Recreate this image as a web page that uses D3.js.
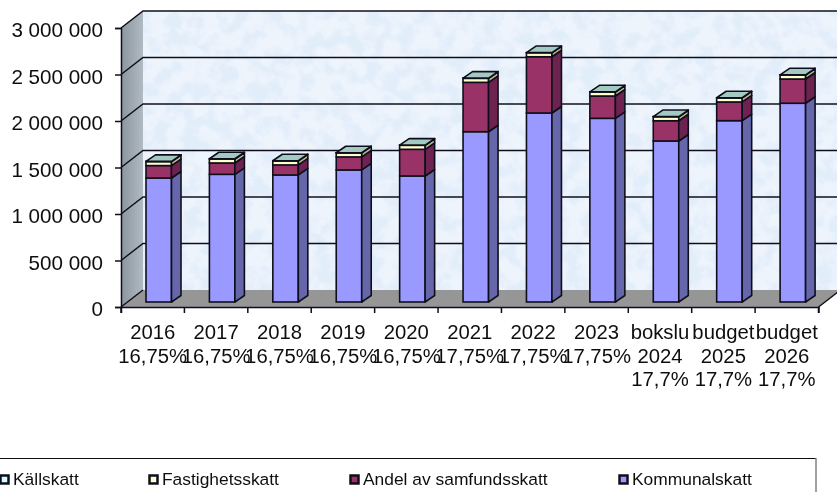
<!DOCTYPE html>
<html>
<head>
	<title>Skatteintäkter</title>
	<script src="https://d3js.org/d3.v7.min.js"></script>
	<style>
	*{
		margin:0;
		padding:0;
	}
	body { background:#fff; overflow:hidden; }
	svg { display:block; font-family:"Liberation Sans", Arial, sans-serif; }
</style>
</head>
<body>
	<svg id="chart" width="837" height="492"></svg>
	<script>
	var years = ["2016","2017","2018","2019","2020","2021","2022","2023","2024","2025","2026"];
	var labels = [
		["2016","16,75%"],["2017","16,75%"],["2018","16,75%"],["2019","16,75%"],["2020","16,75%"],
		["2021","17,75%"],["2022","17,75%"],["2023","17,75%"],
		["bokslu","2024","17,7%"],["budget","2025","17,7%"],["budget","2026","17,7%"]
	];
	var kommunalskatt = [1333000,1373000,1366000,1420000,1355000,1831000,2032000,1975000,1731000,1950000,2137000];
	var samfundsskatt = [134000,122000,108000,140000,287000,531000,605000,240000,218000,201000,261000];
	var fastighetsskatt = [43000,43000,43000,43000,43000,43000,43000,43000,43000,43000,43000];
	var kallskatt = [2000,2000,2000,2000,2000,2000,2000,2000,2000,2000,2000];
	var yTicks = [0,500000,1000000,1500000,2000000,2500000,3000000];
	var legendNames = ["Källskatt","Fastighetsskatt","Andel av samfundsskatt","Kommunalskatt"];

	var svg = d3.select("#chart");
	var ink = "#10101c";

	// the 3d box: floor/wall offset and bar offset
	var depthX = 22, depthY = 17;
	var barLift = 5, barInset = 25, barW = 25.5, sideX = 9.5, sideY = 6.5;

	var x = d3.scaleBand().domain(years).range([121, 818.5]);
	var y = d3.scaleLinear().domain([0, 3000000]).range([307, 28]);

	var defs = svg.append("defs");
	var tex = defs.append("filter").attr("id","paper").attr("x",0).attr("y",0).attr("width","100%").attr("height","100%");
	tex.append("feTurbulence").attr("type","fractalNoise").attr("baseFrequency","0.06").attr("numOctaves",4).attr("seed",7);
	tex.append("feColorMatrix").attr("type","matrix")
		.attr("values","0 0 0 0 0.76  0 0 0 0 0.85  0 0 0 0 0.96  4 0 0 0 -1.6");
	var wallGrad = defs.append("linearGradient").attr("id","wallside").attr("x1",0).attr("x2",1).attr("y1",0).attr("y2",0);
	wallGrad.append("stop").attr("offset",0).attr("stop-color","#8b959e");
	wallGrad.append("stop").attr("offset",1).attr("stop-color","#b0bac2");
	defs.append("filter").attr("id","soft").append("feGaussianBlur").attr("stdDeviation",0.4);

	var plot = svg.append("g").attr("filter","url(#soft)");

	// back wall
	var wallL = x.range()[0] + depthX, wallR = 860;
	var wallTop = y(3000000) - depthY, wallBot = y(0) - depthY;
	plot.append("rect").attr("x",wallL).attr("y",wallTop).attr("width",wallR-wallL).attr("height",wallBot-wallTop).attr("fill","#eef4fc");
	plot.append("rect").attr("x",wallL).attr("y",wallTop).attr("width",wallR-wallL).attr("height",wallBot-wallTop).attr("filter","url(#paper)");

	// side wall and floor
	var x0 = x.range()[0], x1 = x.range()[1];
	plot.append("polygon")
		.attr("points",[[x0,y(3000000)],[wallL,wallTop],[wallL,wallBot],[x0,y(0)]].join(" "))
		.attr("fill","url(#wallside)");
	plot.append("polygon")
		.attr("points",[[x0,y(0)],[wallL,wallBot],[x1+depthX,wallBot],[x1,y(0)]].join(" "))
		.attr("fill","#969696");

	// grid
	plot.selectAll("path.grid").data(yTicks).enter().append("path")
		.attr("class","grid")
		.attr("fill","none").attr("stroke",ink).attr("stroke-width",1.5)
		.attr("d",function(d){
			return d === 0
				? "M"+x0+","+y(0)+"L"+wallL+","+wallBot
				: "M"+x0+","+y(d)+"L"+wallL+","+(y(d)-depthY)+"L"+wallR+","+(y(d)-depthY);
		});
	plot.append("line").attr("x1",x1).attr("y1",y(0)).attr("x2",x1+depthX).attr("y2",wallBot).attr("stroke",ink).attr("stroke-width",1.5);

	// axes
	var yAxis = d3.axisLeft(y).tickValues(yTicks).tickSize(6).tickPadding(12)
		.tickFormat(function(d){ return d3.format(",")(d).replace(/,/g," "); });
	var gy = plot.append("g").attr("transform","translate("+x0+",0)").call(yAxis);
	gy.selectAll("text").attr("font-size",20.6).attr("font-family","Liberation Sans").attr("fill","#111").attr("dy","0.42em");
	gy.selectAll("line,path").attr("stroke",ink).attr("stroke-width",1.5);

	var xAxis = d3.axisBottom(x).tickSize(6).tickFormat("");
	var gx = plot.append("g").attr("transform","translate(0,"+y(0)+")").call(xAxis);
	gx.selectAll(".tick").remove();
	gx.selectAll("path").attr("stroke",ink).attr("stroke-width",1.5);
	gx.selectAll("line.t").data(d3.range(years.length+1)).enter().append("line")
		.attr("class","t")
		.attr("x1",function(i){ return x0 + i*x.bandwidth(); })
		.attr("x2",function(i){ return x0 + i*x.bandwidth(); })
		.attr("y1",0).attr("y2",6)
		.attr("stroke",ink).attr("stroke-width",1.5);

	var catLabels = plot.selectAll("text.cat").data(labels).enter().append("text")
		.attr("class","cat")
		.attr("text-anchor","middle")
		.attr("font-size",20.3)
		.attr("fill","#111");
	catLabels.selectAll("tspan").data(function(d,i){ return d.map(function(s){ return {s:s,i:i}; }); })
		.enter().append("tspan")
		.attr("x",function(d){ return x(years[d.i]) + x.bandwidth()/2; })
		.attr("y",function(d,j){ return 339 + j*23.6; })
		.text(function(d){ return d.s; });

	// stacked bars, bottom to top
	var stackData = years.map(function(yr,i){
		return {year:yr, kommunal:kommunalskatt[i], samfund:samfundsskatt[i], fastighet:fastighetsskatt[i], kall:kallskatt[i]};
	});
	var keys = ["kommunal","samfund","fastighet","kall"];
	var front = {kommunal:"#9999ff", samfund:"#993366", fastighet:"#ffffcc", kall:"#ccffff"};
	var side = {kommunal:"#6666aa", samfund:"#6e2250", fastighet:"#b8b890", kall:"#8fb3b3"};
	var series = d3.stack().keys(keys)(stackData);

	function by(v){ return y(v) - barLift; }

	var barG = plot.selectAll("g.bar").data(years).enter().append("g").attr("class","bar");
	barG.each(function(yr,i){
		var g = d3.select(this);
		var l = x(yr) + barInset, r = l + barW;
		series.forEach(function(s){
			var lo = by(s[i][0]), hi = by(s[i][1]);
			g.append("rect").attr("x",l).attr("y",hi).attr("width",barW).attr("height",lo-hi)
				.attr("fill",front[s.key]).attr("stroke",ink).attr("stroke-width",1.6);
			g.append("polygon")
				.attr("points",[[r,lo],[r+sideX,lo-sideY],[r+sideX,hi-sideY],[r,hi]].join(" "))
				.attr("fill",side[s.key]).attr("stroke",ink).attr("stroke-width",1.6).attr("stroke-linejoin","round");
		});
		var top = by(series[series.length-1][i][1]);
		g.append("polygon")
			.attr("points",[[l,top],[l+sideX,top-sideY],[r+sideX,top-sideY],[r,top]].join(" "))
			.attr("fill","#a3c9c3").attr("stroke",ink).attr("stroke-width",1.6).attr("stroke-linejoin","round");
	});

	// legend
	var legendX = [-1,148,349,618];
	var legendColors = ["#ccffff","#ffffcc","#993366","#9999ff"];
	var lg = svg.append("g").attr("filter","url(#soft)");
	lg.append("path").attr("d","M0,458.5H816").attr("stroke","#111").attr("stroke-width",1.2).attr("fill","none");
	lg.append("path").attr("d","M816,458V492").attr("stroke","#777").attr("stroke-width",1.4).attr("fill","none");
	var items = lg.selectAll("g.item").data(legendNames).enter().append("g").attr("class","item")
		.attr("transform",function(d,i){ return "translate("+legendX[i]+",0)"; });
	items.append("rect").attr("x",1.5).attr("y",475.5).attr("width",8).attr("height",8)
		.attr("fill",function(d,i){ return legendColors[i]; })
		.attr("stroke",ink).attr("stroke-width",2.5);
	items.append("text").attr("x",14).attr("y",485).attr("font-size",17.4).attr("fill","#111").text(function(d){ return d; });
	</script>
</body>
</html>
